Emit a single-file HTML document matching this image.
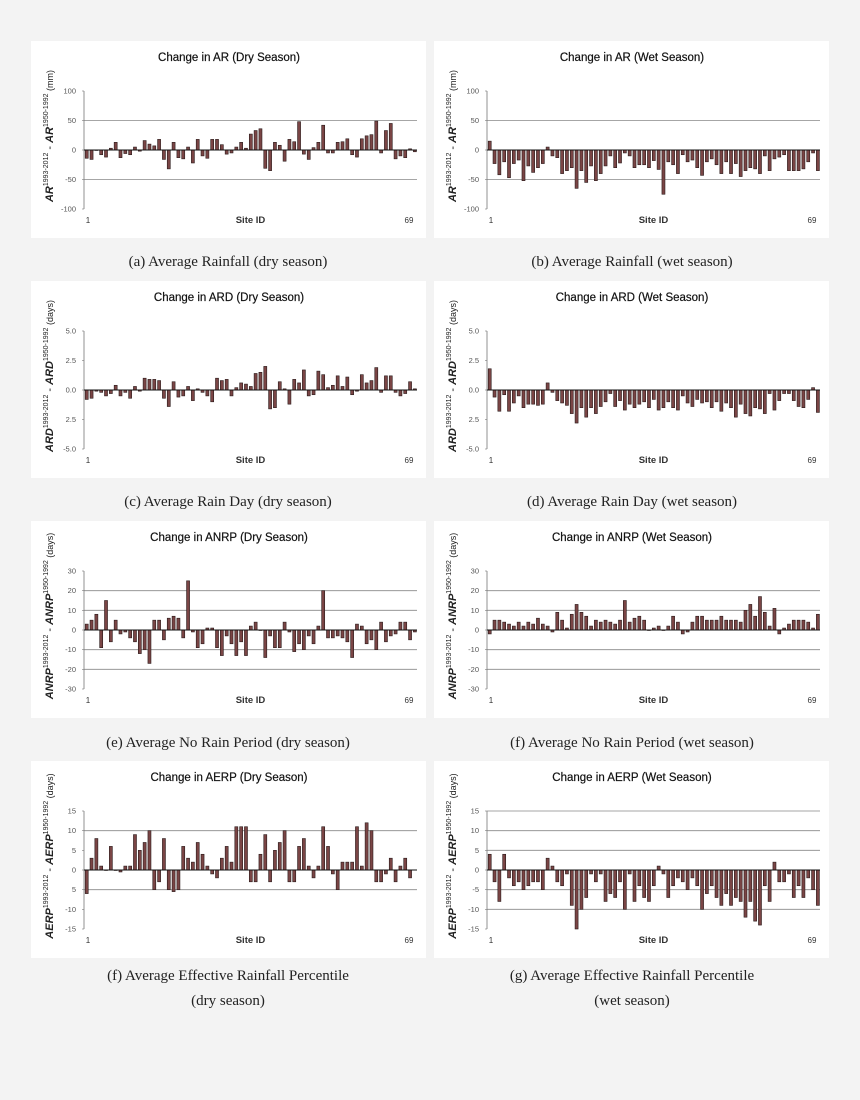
<!DOCTYPE html>
<html><head><meta charset="utf-8"><style>
html,body{margin:0;padding:0;background:#f3f3f3;}
svg{display:block;}
</style></head><body>
<svg id="s" width="860" height="1100" xmlns="http://www.w3.org/2000/svg"></svg>
<script>
const S=document.getElementById('s');
let h='<rect x="0" y="0" width="860" height="1100" fill="#f3f3f3"/>';
const panels=[
 {x:31,y:41,t:'Change in AR (Dry Season)',v:'AR',u:'(mm)',ticks:['100','50','0','-50','-100'],max:100,grid:[50,-50],
  d:[-14,-16,0,-8,-12,3,13,-13,-6,-8,5,-2,16,10,7,18,-16,-32,13,-13,-15,5,-22,18,-10,-14,18,18,9,-7,-5,5,13,3,27,33,36,-31,-35,13,8,-19,18,14,48,-7,-16,4,13,42,-5,-5,13,14,19,-8,-12,19,24,26,49,-5,33,45,-15,-10,-13,2,-3]},
 {x:434,y:41,t:'Change in AR (Wet Season)',v:'AR',u:'(mm)',ticks:['100','50','0','-50','-100'],max:100,grid:[50,-50],
  d:[15,-23,-42,-20,-47,-23,-17,-52,-27,-38,-30,-23,5,-10,-13,-40,-35,-30,-65,-35,-55,-27,-52,-40,-27,-10,-30,-22,-5,-10,-30,-25,-25,-30,-18,-33,-75,-20,-25,-40,-8,-20,-17,-30,-43,-20,-15,-25,-40,-20,-40,-23,-45,-35,-30,-32,-40,-10,-35,-15,-12,-8,-35,-35,-35,-32,-20,-5,-35]},
 {x:31,y:281,t:'Change in ARD (Dry Season)',v:'ARD',u:'(days)',ticks:['5.0','2.5','0.0','2.5','-5.0'],max:5,grid:[],
  d:[-0.8,-0.7,-0.1,-0.2,-0.5,-0.3,0.4,-0.5,-0.2,-0.7,0.3,-0.1,1.0,0.9,0.9,0.8,-0.7,-1.4,0.7,-0.6,-0.5,0.3,-0.9,0.1,-0.2,-0.5,-1.0,1.0,0.8,0.9,-0.5,0.2,0.6,0.5,0.3,1.4,1.5,2.0,-1.6,-1.5,0.7,0.1,-1.2,0.9,0.6,1.7,-0.5,-0.4,1.6,1.3,0.2,0.4,1.2,0.3,1.1,-0.4,-0.1,1.3,0.6,0.8,1.9,-0.2,1.2,1.2,-0.2,-0.5,-0.3,0.7,0.1]},
 {x:434,y:281,t:'Change in ARD (Wet Season)',v:'ARD',u:'(days)',ticks:['5.0','2.5','0.0','2.5','-5.0'],max:5,grid:[],
  d:[1.8,-0.6,-1.8,-0.4,-1.8,-1.1,-0.5,-1.5,-1.2,-1.2,-1.3,-1.2,0.6,-0.2,-0.9,-1.1,-1.3,-2.0,-2.8,-1.5,-2.3,-1.5,-2.0,-1.4,-1.0,-0.3,-1.4,-0.9,-1.7,-1.2,-1.5,-1.2,-1.0,-1.5,-0.8,-1.7,-1.5,-1.0,-1.5,-1.7,-0.5,-1.1,-1.4,-0.8,-1.1,-1.0,-1.5,-1.0,-1.8,-1.1,-1.5,-2.3,-1.2,-2.0,-2.2,-1.5,-1.6,-2.0,-0.3,-1.7,-0.9,-0.3,-0.3,-0.9,-1.4,-1.5,-0.8,0.2,-1.9]},
 {x:31,y:521,t:'Change in ANRP (Dry Season)',v:'ANRP',u:'(days)',ticks:['30','20','10','0','-10','-20','-30'],max:30,grid:[20,10,-10,-20],
  d:[3,5,8,-9,15,-6,5,-2,-1,-4,-6,-12,-10,-17,5,5,-5,6,7,6,-4,25,-1,-9,-7,1,1,-9,-13,-3,-7,-13,-6,-13,2,4,0,-14,-3,-9,-9,4,-1,-11,-7,-10,-3,-7,2,20,-4,-4,-3,-4,-6,-14,3,2,-7,-5,-10,4,-6,-3,-2,4,4,-5,-1]},
 {x:434,y:521,t:'Change in ANRP (Wet Season)',v:'ANRP',u:'(days)',ticks:['30','20','10','0','-10','-20','-30'],max:30,grid:[20,10,-10,-20],
  d:[-2,5,5,4,3,2,4,2,4,3,6,3,2,-1,9,5,1,8,13,9,7,2,5,4,5,4,3,5,15,4,6,7,5,0,1,2,0,2,7,4,-2,-1,4,7,7,5,5,5,7,5,5,5,4,10,13,7,17,9,2,11,-2,1,3,5,5,5,4,1,8]},
 {x:31,y:761,t:'Change in AERP (Dry Season)',v:'AERP',u:'(days)',ticks:['15','10','5','0','5','-10','-15'],max:15,grid:[10,-5],
  d:[-6,3,8,1,0,6,0,-0.5,1,1,9,5,7,10,-5,-3,8,-5,-5.5,-5,6,3,2,7,4,1,-1,-2,3,6,2,11,11,11,-3,-3,4,9,-3,5,7,10,-3,-3,6,8,1,-2,1,11,6,-1,-5,2,2,2,11,1,12,10,-3,-3,-1,3,-3,1,3,-2]},
 {x:434,y:761,t:'Change in AERP (Wet Season)',v:'AERP',u:'(days)',ticks:['15','10','5','0','-5','-10','-15'],max:15,grid:[15,10,5,-5,-10],
  d:[4,-3,-8,4,-2,-4,-3,-5,-4,-3,-3,-5,3,1,-3,-4,-1,-9,-15,-10,-7,-1,-3,-1,-8,-6,-7,-3,-10,-1,-8,-4,-7,-8,-4,1,-1,-7,-4,-2,-3,-5,-2,-4,-10,-6,-4,-7,-9,-6,-9,-7,-8,-12,-8,-13,-14,-4,-8,2,-3,-3,-1,-7,-4,-7,-2,-5,-9]}
];
panels.forEach(p=>{
 const ax=p.x+53, ar=p.x+386, top=p.y+50, bot=p.y+168, zy=(top+bot)/2, hh=(bot-top)/2;
 const Y=v=>zy-v/p.max*hh;
 h+=`<rect x="${p.x}" y="${p.y}" width="395" height="197" fill="#fff"/>`;
 h+=`<text x="${p.x+198}" y="${p.y+20}" font-family="Liberation Sans,sans-serif" font-size="11.5" text-anchor="middle" fill="#111" stroke="#111" stroke-width="0.2">${p.t}</text>`;
 p.grid.forEach(g=>{h+=`<line x1="${ax}" x2="${ar}" y1="${Y(g)}" y2="${Y(g)}" stroke="#888" stroke-width="0.8"/>`;});
 const n=p.ticks.length;
 p.ticks.forEach((t,i)=>{const y=top+(bot-top)*i/(n-1);
  h+=`<text x="${ax-8}" y="${y+2.5}" font-family="Liberation Sans,sans-serif" font-size="7.5" text-anchor="end" fill="#555">${t}</text>`;
  h+=`<line x1="${ax-2}" x2="${ax}" y1="${y}" y2="${y}" stroke="#777" stroke-width="0.6"/>`;});
 h+=`<line x1="${ax}" x2="${ax}" y1="${top}" y2="${bot}" stroke="#777" stroke-width="0.8"/>`;
 const bw=(ar-ax)/69;
 p.d.slice(0,69).forEach((v,i)=>{const x=ax+i*bw+1.2, y1=Math.min(Y(v),zy), hgt=Math.abs(Y(v)-zy);
  h+=`<rect x="${x.toFixed(2)}" y="${y1.toFixed(2)}" width="${(bw-1.8).toFixed(2)}" height="${Math.max(hgt,0.5).toFixed(2)}" fill="#7a4545" stroke="#2a1a1a" stroke-width="0.6"/>`;});
 h+=`<line x1="${ax}" x2="${ar}" y1="${zy}" y2="${zy}" stroke="#111" stroke-width="1"/>`;
 h+=`<text x="${ax+4}" y="${p.y+182}" font-family="Liberation Sans,sans-serif" font-size="8" text-anchor="middle" fill="#333">1</text>`;
 h+=`<text x="${ar-8}" y="${p.y+182}" font-family="Liberation Sans,sans-serif" font-size="8" text-anchor="middle" fill="#333">69</text>`;
 h+=`<text x="${(ax+ar)/2}" y="${p.y+182}" font-family="Liberation Sans,sans-serif" font-size="9.5" font-weight="bold" text-anchor="middle" fill="#333">Site ID</text>`;
 const cx=p.x+22, cy=p.y+95;
 h+=`<text transform="translate(${cx},${cy}) rotate(-90)" font-family="Liberation Sans,sans-serif" font-size="11" text-anchor="middle" fill="#222"><tspan font-style="italic" font-weight="bold">${p.v}</tspan><tspan font-size="7" dy="-5">1993-2012</tspan><tspan dy="5"> - </tspan><tspan font-style="italic" font-weight="bold">${p.v}</tspan><tspan font-size="7" dy="-5">1950-1992</tspan><tspan dy="5" font-size="9"> (${p.u.slice(1,-1)})</tspan></text>`;
});
const caps=[[228,266,'(a) Average Rainfall (dry season)'],[632,266,'(b) Average Rainfall (wet season)'],
[228,506,'(c) Average Rain Day (dry season)'],[632,506,'(d) Average Rain Day (wet season)'],
[228,747,'(e) Average No Rain Period (dry season)'],[632,747,'(f) Average No Rain Period (wet season)'],
[228,980,'(f) Average Effective Rainfall Percentile'],[632,980,'(g) Average Effective Rainfall Percentile'],
[228,1005,'(dry season)'],[632,1005,'(wet season)']];
caps.forEach(c=>{h+=`<text x="${c[0]}" y="${c[1]}" font-family="Liberation Serif,serif" font-size="15" text-anchor="middle" fill="#222">${c[2]}</text>`;});
S.innerHTML=h;
</script>
</body></html>
